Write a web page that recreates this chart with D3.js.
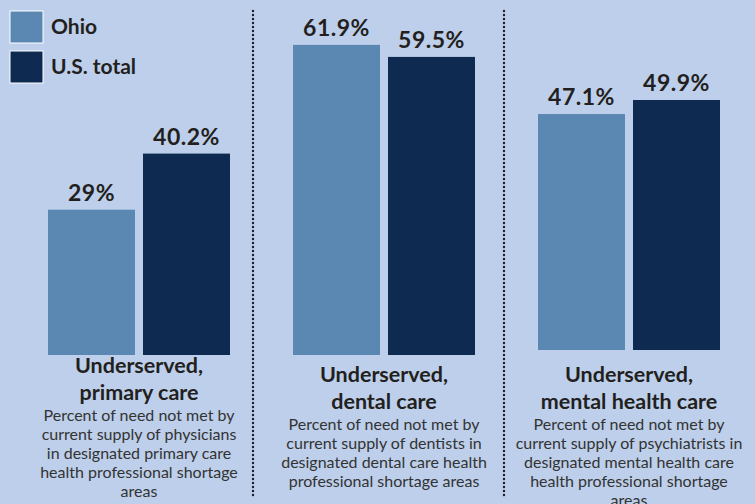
<!DOCTYPE html>
<html>
<head>
<meta charset="utf-8">
<script src="https://cdn.jsdelivr.net/npm/d3@7"></script>
<style>
  body { margin: 0; background: #bdcfea; }
  svg { display: block; }
</style>
</head>
<body>
<div id="chart"></div>
<script>
// data
var categories = ["primary", "dental", "mental"];
var titleLines = [
  ["Underserved,", "primary care"],
  ["Underserved,", "dental care"],
  ["Underserved,", "mental health care"]
];
var noteLines = [
  ["Percent of need not met by", "current supply of physicians", "in designated primary care", "health professional shortage", "areas"],
  ["Percent of need not met by", "current supply of dentists in", "designated dental care health", "professional shortage areas"],
  ["Percent of need not met by", "current supply of psychiatrists in", "designated mental health care", "health professional shortage", "areas"]
];
var seriesNames = ["Ohio", "U.S. total"];
var ohio = [29, 61.9, 47.1];
var usTotal = [40.2, 59.5, 49.9];

var colors = {"Ohio": "#5b88b3", "U.S. total": "#0e2a50"};

// layout of each panel (baselines differ a little in the original)
var baseY = [355, 355, 350];
var titleY = [373, 382, 382];
var sepX = [253, 504];

var width = 755, height = 504;

var svg = d3.select("#chart")
  .append("svg")
    .attr("width", width)
    .attr("height", height);

svg.append("rect")
  .attr("width", width)
  .attr("height", height)
  .attr("fill", "#bdcfea");

// group scale + inner scale for the two bars
var x0 = d3.scaleBand()
  .domain(categories)
  .range([16.5, 751.5])
  .padding(0);

var x1 = d3.scaleBand()
  .domain(seriesNames)
  .range([-91, 91])
  .paddingInner(0.0842)
  .paddingOuter(0);

// bar height in px per percent
var h = d3.scaleLinear()
  .domain([0, 100])
  .range([0, 501]);

var rows = [];
categories.forEach(function(c, i) {
  rows.push({cat: c, i: i, series: "Ohio", value: ohio[i]});
  rows.push({cat: c, i: i, series: "U.S. total", value: usTotal[i]});
});

function cx(d) { return x0(d.cat) + x0.bandwidth() / 2; }

svg.selectAll("rect.bar")
  .data(rows)
  .enter()
  .append("rect")
    .attr("class", "bar")
    .attr("x", function(d) { return cx(d) + x1(d.series); })
    .attr("y", function(d) { return baseY[d.i] - h(d.value); })
    .attr("width", x1.bandwidth())
    .attr("height", function(d) { return h(d.value); })
    .attr("fill", function(d) { return colors[d.series]; });

// value labels
svg.selectAll("text.val")
  .data(rows)
  .enter()
  .append("text")
    .attr("class", "val")
    .attr("x", function(d) { return cx(d) + x1(d.series) + x1.bandwidth() / 2; })
    .attr("y", function(d) { return baseY[d.i] - h(d.value) - 9; })
    .attr("text-anchor", "middle")
    .style("font-family", "Lato, 'DejaVu Sans', sans-serif")
    .style("font-weight", "bold")
    .style("font-size", "23px")
    .style("letter-spacing", "0.5px")
    .attr("fill", "#231f20")
    .text(function(d) { return d.value + "%"; });

// titles and notes under each panel
var panels = svg.selectAll("g.panel")
  .data(categories)
  .enter()
  .append("g")
    .attr("class", "panel")
    .attr("transform", function(c) { return "translate(" + (x0(c) + x0.bandwidth() / 2) + ",0)"; });

panels.each(function(c, i) {
  var g = d3.select(this);
  titleLines[i].forEach(function(line, k) {
    g.append("text")
      .attr("x", 0)
      .attr("y", titleY[i] + k * 27)
      .attr("text-anchor", "middle")
      .style("font-family", "Lato, 'DejaVu Sans', sans-serif")
      .style("font-weight", "bold")
      .style("font-size", "21.5px")
      .attr("fill", "#231f20")
      .text(line);
  });
  noteLines[i].forEach(function(line, k) {
    g.append("text")
      .attr("x", 0)
      .attr("y", titleY[i] + 48 + k * 19)
      .attr("text-anchor", "middle")
      .style("font-family", "Lato, 'DejaVu Sans', sans-serif")
      .style("font-size", "16px")
      .attr("fill", "#333333")
      .text(line);
  });
});

// dotted separators
svg.selectAll("line.sep")
  .data(sepX)
  .enter()
  .append("line")
    .attr("class", "sep")
    .attr("x1", function(d) { return d; })
    .attr("x2", function(d) { return d; })
    .attr("y1", 11)
    .attr("y2", 496)
    .attr("stroke", "#231f20")
    .attr("stroke-width", 2.4)
    .attr("stroke-linecap", "round")
    .attr("stroke-dasharray", "0 4");

// legend
var legend = svg.selectAll("g.legend")
  .data(seriesNames)
  .enter()
  .append("g")
    .attr("class", "legend")
    .attr("transform", function(d, i) { return "translate(10," + (11 + i * 40) + ")"; });

legend.append("rect")
  .attr("width", 33)
  .attr("height", 32)
  .attr("fill", function(d) { return colors[d]; })
  .attr("stroke", "#ffffff")
  .attr("stroke-width", 1);

legend.append("text")
  .attr("x", 41)
  .attr("y", 23)
  .style("font-family", "Lato, 'DejaVu Sans', sans-serif")
  .style("font-weight", "bold")
  .style("font-size", "21px")
  .attr("fill", "#231f20")
  .text(function(d) { return d; });
</script>
</body>
</html>
